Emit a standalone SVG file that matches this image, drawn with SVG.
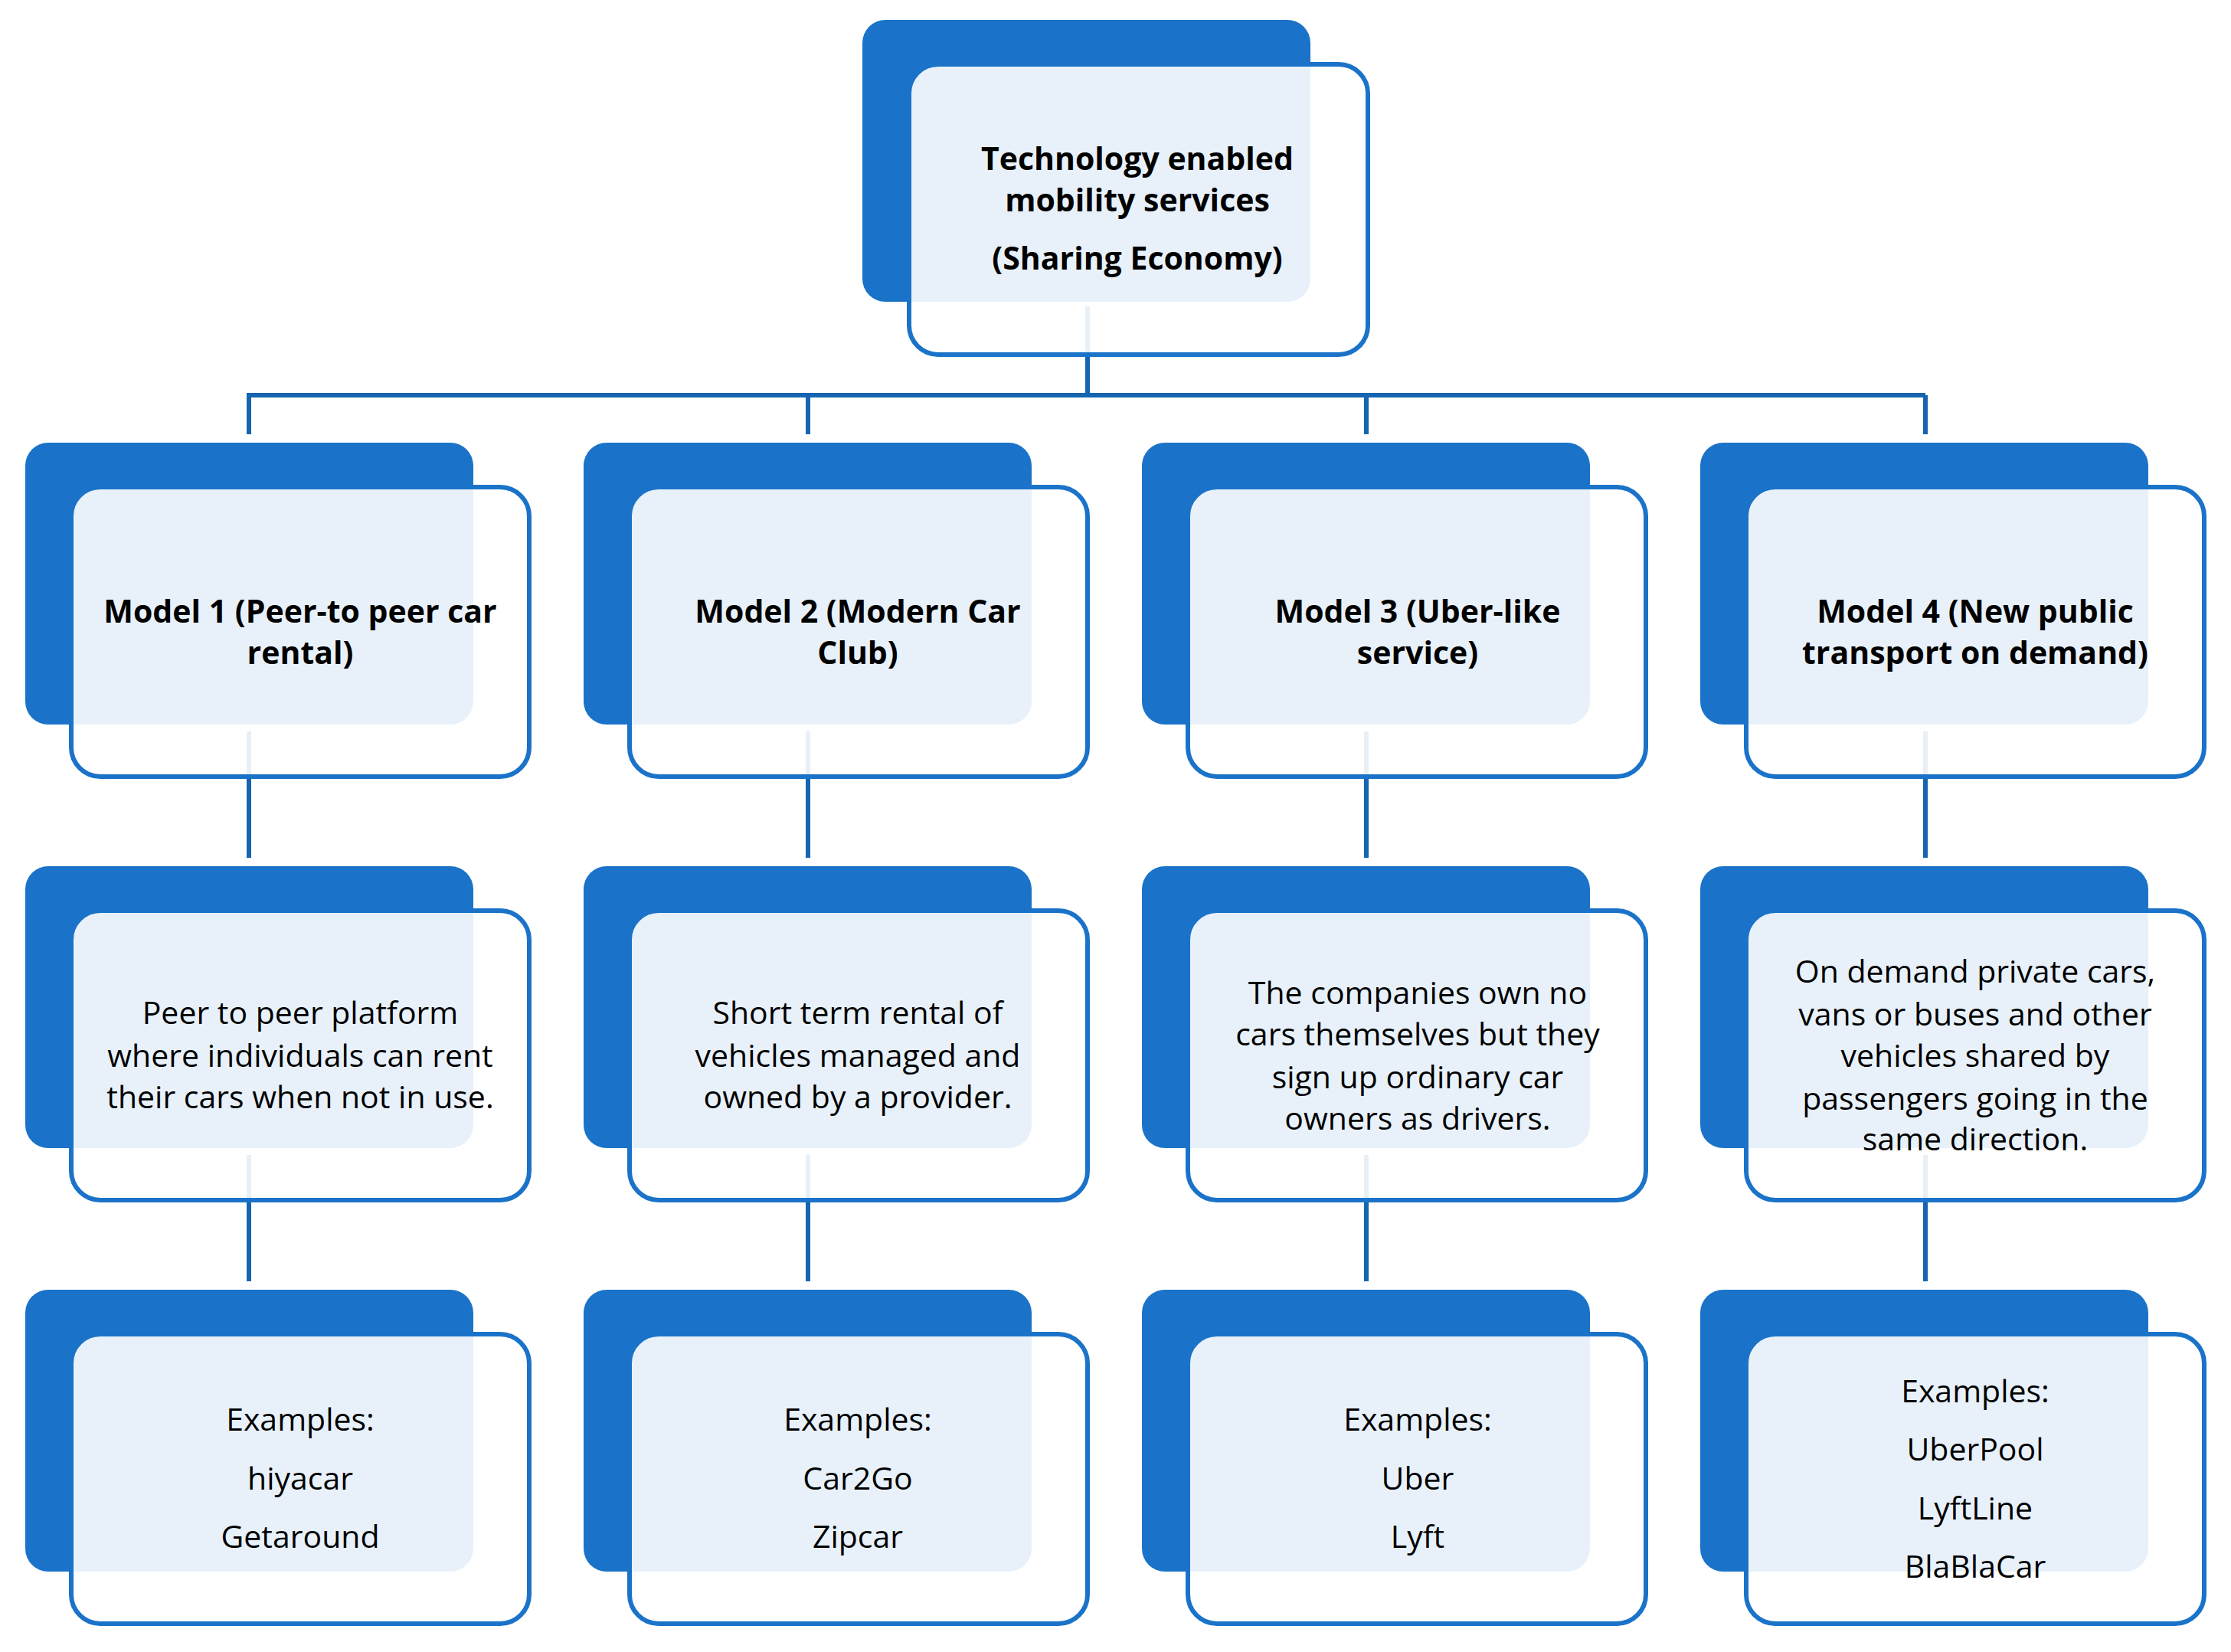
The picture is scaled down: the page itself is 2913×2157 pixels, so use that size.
<svg xmlns="http://www.w3.org/2000/svg" width="2913" height="2157" viewBox="0 0 2913 2157">
<style>
.bk{fill:#1a73c8}
.fr{fill:#fff;fill-opacity:0.9;stroke:#1a73c8;stroke-width:6}
.cn{stroke:#1565b0;stroke-width:6;fill:none}
text{font-family:"Open Sans","Liberation Sans",sans-serif;font-size:41px;fill:#000;text-anchor:middle;dominant-baseline:central}
.b{font-weight:bold}
</style>
<rect width="2913" height="2157" fill="#fff"/>
<g id="backs">
<rect class="bk" x="1126" y="26" width="585" height="368" rx="30"/>
<rect class="bk" x="33" y="578" width="585" height="368" rx="30"/><rect class="bk" x="762" y="578" width="585" height="368" rx="30"/><rect class="bk" x="1491" y="578" width="585" height="368" rx="30"/><rect class="bk" x="2220" y="578" width="585" height="368" rx="30"/>
<rect class="bk" x="33" y="1131" width="585" height="368" rx="30"/><rect class="bk" x="762" y="1131" width="585" height="368" rx="30"/><rect class="bk" x="1491" y="1131" width="585" height="368" rx="30"/><rect class="bk" x="2220" y="1131" width="585" height="368" rx="30"/>
<rect class="bk" x="33" y="1684" width="585" height="368" rx="30"/><rect class="bk" x="762" y="1684" width="585" height="368" rx="30"/><rect class="bk" x="1491" y="1684" width="585" height="368" rx="30"/><rect class="bk" x="2220" y="1684" width="585" height="368" rx="30"/>
</g>
<g id="connectors">
<path class="cn" d="M1420 400V516M325 516H2514M325 513V567M1055 516V567M1784 516V567M2514 516V567"/>
<path class="cn" d="M325 955V1120M1055 955V1120M1784 955V1120M2514 955V1120"/>
<path class="cn" d="M325 1508V1673M1055 1508V1673M1784 1508V1673M2514 1508V1673"/>
</g>
<g id="top"><rect class="fr" x="1187" y="84" width="599" height="379" rx="38"/>
<text class="b" x="1485" y="206">Technology enabled</text><text class="b" x="1485" y="260">mobility services</text><text class="b" x="1485" y="336">(Sharing Economy)</text></g>
<g id="m1"><rect class="fr" x="93" y="636" width="598" height="378" rx="38"/><text class="b" x="392" y="797">Model 1 (Peer-to peer car</text><text class="b" x="392" y="851">rental)</text></g>
<g id="m2"><rect class="fr" x="822" y="636" width="598" height="378" rx="38"/><text class="b" x="1120" y="797">Model 2 (Modern Car</text><text class="b" x="1120" y="851">Club)</text></g>
<g id="m3"><rect class="fr" x="1551" y="636" width="598" height="378" rx="38"/><text class="b" x="1851" y="797">Model 3 (Uber-like</text><text class="b" x="1851" y="851">service)</text></g>
<g id="m4"><rect class="fr" x="2280" y="636" width="598" height="378" rx="38"/><text class="b" x="2579" y="797">Model 4 (New public</text><text class="b" x="2579" y="851">transport on demand)</text></g>
<g id="d1"><rect class="fr" x="93" y="1189" width="598" height="378" rx="38"/><text x="392" y="1321">Peer to peer platform</text><text x="392" y="1377">where individuals can rent</text><text x="392" y="1431">their cars when not in use.</text></g>
<g id="d2"><rect class="fr" x="822" y="1189" width="598" height="378" rx="38"/><text x="1120" y="1321">Short term rental of</text><text x="1120" y="1377">vehicles managed and</text><text x="1120" y="1431">owned by a provider.</text></g>
<g id="d3"><rect class="fr" x="1551" y="1189" width="598" height="378" rx="38"/><text x="1851" y="1295">The companies own no</text><text x="1851" y="1349">cars themselves but they</text><text x="1851" y="1405">sign up ordinary car</text><text x="1851" y="1459">owners as drivers.</text></g>
<g id="d4"><rect class="fr" x="2280" y="1189" width="598" height="378" rx="38"/><text x="2579" y="1267">On demand private cars,</text><text x="2579" y="1323">vans or buses and other</text><text x="2579" y="1377">vehicles shared by</text><text x="2579" y="1433">passengers going in the</text><text x="2579" y="1486">same direction.</text></g>
<g id="e1"><rect class="fr" x="93" y="1742" width="598" height="378" rx="38"/><text x="392" y="1852">Examples:</text><text x="392" y="1929">hiyacar</text><text x="392" y="2005">Getaround</text></g>
<g id="e2"><rect class="fr" x="822" y="1742" width="598" height="378" rx="38"/><text x="1120" y="1852">Examples:</text><text x="1120" y="1929">Car2Go</text><text x="1120" y="2005">Zipcar</text></g>
<g id="e3"><rect class="fr" x="1551" y="1742" width="598" height="378" rx="38"/><text x="1851" y="1852">Examples:</text><text x="1851" y="1929">Uber</text><text x="1851" y="2005">Lyft</text></g>
<g id="e4"><rect class="fr" x="2280" y="1742" width="598" height="378" rx="38"/><text x="2579" y="1815">Examples:</text><text x="2579" y="1891">UberPool</text><text x="2579" y="1968">LyftLine</text><text x="2579" y="2044">BlaBlaCar</text></g>
</svg>
